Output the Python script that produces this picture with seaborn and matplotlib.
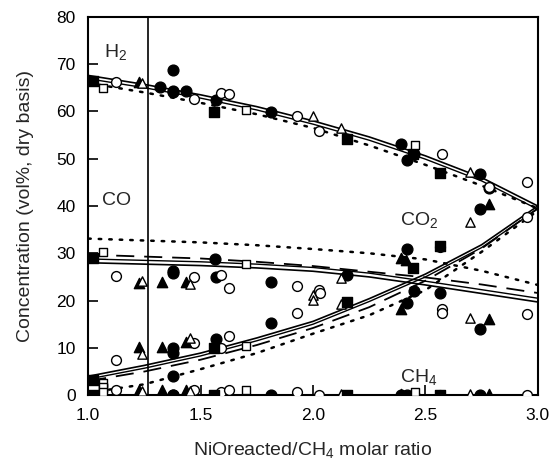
import numpy as np
import pandas as pd
import seaborn as sns
import matplotlib.pyplot as plt

# model curves at these molar ratios
ratio = [1.0, 1.25, 1.5, 1.75, 2.0, 2.25, 2.5, 2.75, 3.0]
h2_solid = [67.6, 65.7, 63.5, 61.0, 58.0, 54.6, 50.6, 46.0, 40.0]
h2_dotted = [66.0, 64.0, 61.8, 59.4, 56.5, 52.8, 48.7, 44.3, 39.5]
co_solid = [28.0, 27.7, 27.4, 26.9, 26.2, 25.0, 23.3, 21.5, 19.7]
co_dashed = [29.7, 29.3, 28.9, 28.2, 27.3, 26.1, 24.9, 23.4, 21.6]
co_dotted = [33.1, 32.7, 32.3, 31.7, 30.9, 30.0, 28.7, 26.3, 23.3]
co2_solid = [4.0, 6.3, 8.9, 12.1, 15.6, 20.4, 25.6, 31.8, 40.0]
co2_dashed = [3.0, 5.0, 7.5, 10.6, 14.2, 18.6, 24.2, 31.0, 39.5]
co2_dotted = [0.5, 2.3, 5.5, 8.9, 13.0, 16.9, 22.2, 30.3, 39.0]
ch4_solid = [0.0, 0.0, 0.0, 0.0, 0.0, 0.0, 0.0, 0.0, 0.0]

# experimental points (NaN where that symbol has no point for the gas)
nan = np.nan
fc_x = [1.32, 1.375, 1.375, 1.375, 1.437, 1.563, 1.568, 1.815, 2.153, 2.393, 2.418, 2.45, 2.563, 2.741, 2.782]
fc_h2 = [65.2, 68.7, 64.3, 64.0, 64.3, nan, 62.5, 59.9, nan, 53.1, 49.8, 51.0, nan, 46.7, 43.7]
fc_co = [nan, 26.3, 25.8, nan, nan, 28.7, 24.9, 24.0, 25.4, nan, 19.4, 22.1, 21.5, 13.9, nan]
fc_co2 = [nan, 9.9, 8.9, 4.0, nan, nan, 11.8, 15.2, nan, nan, 30.8, nan, nan, 39.3, nan]
fc_ch4 = [nan, 0.0, 0.0, nan, nan, nan, nan, 0.0, nan, 0.0, 0.0, 0.0, nan, 0.0, nan]

oc_x = [1.123, 1.471, 1.59, 1.625, 1.93, 2.027, 2.03, 2.563, 2.575, 2.575, 2.782, 2.953]
oc_h2 = [66.2, 62.7, 63.9, 63.6, 59.0, 55.9, nan, nan, 51.0, nan, 44.0, 45.0]
oc_co = [25.2, 24.9, 25.5, 22.7, 23.0, 22.2, 21.5, nan, 18.3, 17.4, nan, 17.1]
oc_co2 = [7.4, 11.1, 9.9, 12.5, 17.4, nan, nan, 31.4, nan, nan, nan, 37.6]
oc_ch4 = [1.1, 1.1, 0.7, 1.1, 0.7, 0.0, nan, 0.0, nan, nan, nan, 0.0]

ft_x = [1.225, 1.326, 1.437, 2.393, 2.415, 2.782]
ft_h2 = [66.2, nan, nan, nan, nan, nan]
ft_co = [23.7, 24.0, 24.0, 18.3, nan, 16.0]
ft_co2 = [10.1, 10.1, 11.3, 28.9, 28.5, 40.5]
ft_ch4 = [1.1, 1.1, 1.1, 0.2, nan, 0.2]

ot_x = [1.237, 1.452, 2.0, 2.0, 2.123, 2.70]
ot_h2 = [66.0, nan, 59.0, nan, 56.4, 47.2]
ot_co = [24.1, 23.6, 21.1, 20.1, 24.8, 16.4]
ot_co2 = [8.7, 12.0, nan, nan, 19.2, 36.6]
ot_ch4 = [0.9, 0.9, nan, nan, 0.2, 0.2]

fs_x = [1.022, 1.56, 2.151, 2.445, 2.563]
fs_h2 = [66.4, 59.9, 54.1, 51.0, 46.9]
fs_co = [29.1, nan, nan, nan, nan]
fs_co2 = [3.2, 9.9, 19.7, 26.8, 31.6]
fs_ch4 = [0.0, 0.0, 0.0, nan, 0.0]

os_x = [1.067, 1.067, 1.70, 2.452]
os_h2 = [65.0, nan, 60.3, 52.9]
os_co = [30.3, nan, 27.8, nan]
os_co2 = [2.5, 1.5, 10.4, nan]
os_ch4 = [1.8, 0.7, 1.1, 0.7]

sns.set_style("ticks")
plt.rcParams['font.family'] = ['Liberation Sans', 'DejaVu Sans']
plt.rcParams['mathtext.fontset'] = 'custom'
plt.rcParams['mathtext.rm'] = 'Liberation Sans'

fig = plt.figure(figsize=(5.55, 4.66), dpi=100)
ax = fig.add_axes([0.159, 0.152, 0.81, 0.812])

# curves
dotted = (0, (1, 3.2))
dashed = (0, (10, 5.5))
for ys in [h2_solid, co_solid, co2_solid, ch4_solid]:
    sns.lineplot(x=ratio, y=ys, color='black', lw=1.2, ax=ax)
# second line of each solid pair
for ys, off in [(h2_solid, -0.7), (co_solid, 0.8), (co2_solid, -0.6)]:
    sns.lineplot(x=ratio, y=np.array(ys) + off, color='black', lw=1.0, ax=ax)
for ys in [co_dashed, co2_dashed]:
    sns.lineplot(x=ratio, y=ys, color='black', lw=1.3, linestyle=dashed, ax=ax)
for ys in [h2_dotted, co_dotted, co2_dotted]:
    sns.lineplot(x=ratio, y=ys, color='black', lw=1.8, linestyle=dotted,
                 dash_capstyle='round', ax=ax)

# points
symbols = [
    (fc_x, [fc_h2, fc_co, fc_co2, fc_ch4], 'o', 'black', 60),
    (oc_x, [oc_h2, oc_co, oc_co2, oc_ch4], 'o', 'white', 50),
    (ft_x, [ft_h2, ft_co, ft_co2, ft_ch4], '^', 'black', 55),
    (ot_x, [ot_h2, ot_co, ot_co2, ot_ch4], '^', 'white', 45),
    (fs_x, [fs_h2, fs_co, fs_co2, fs_ch4], 's', 'black', 45),
    (os_x, [os_h2, os_co, os_co2, os_ch4], 's', 'white', 38),
]
for xs, gases, mk, fill, size in symbols:
    for ys in gases:
        df = pd.DataFrame({'x': xs, 'y': ys}).dropna()
        sns.scatterplot(data=df, x='x', y='y', marker=mk, s=size, color=fill,
                        edgecolor='black', linewidth=1.0, zorder=3, ax=ax)

ax.axvline(1.264, color='black', lw=1.2)

ax.text(1.07, 71.3, 'H$_2$', fontsize=14)
ax.text(1.063, 40.3, 'CO', fontsize=14)
ax.text(2.385, 35.8, 'CO$_2$', fontsize=14)
ax.text(2.385, 2.6, 'CH$_4$', fontsize=14)

ax.set_xlim(1.0, 3.0)
ax.set_ylim(0, 80)
ax.set_xticks([1.0, 1.5, 2.0, 2.5, 3.0])
ax.set_xticklabels(['1.0', '1.5', '2.0', '2.5', '3.0'])
ax.set_yticks(range(0, 81, 10))
ax.tick_params(direction='in', length=7, width=1.2, labelsize=12.5, colors='black')
ax.tick_params(axis='x', pad=9)
ax.tick_params(axis='y', pad=9)
for s in ax.spines.values():
    s.set_linewidth(1.5)
    s.set_color('black')
ax.set_xlabel('NiOreacted/CH$_4$ molar ratio', fontsize=14, labelpad=13)
ax.set_ylabel('Concentration (vol%, dry basis)', fontsize=14, labelpad=16)

fig.savefig('out.png', dpi=100)
